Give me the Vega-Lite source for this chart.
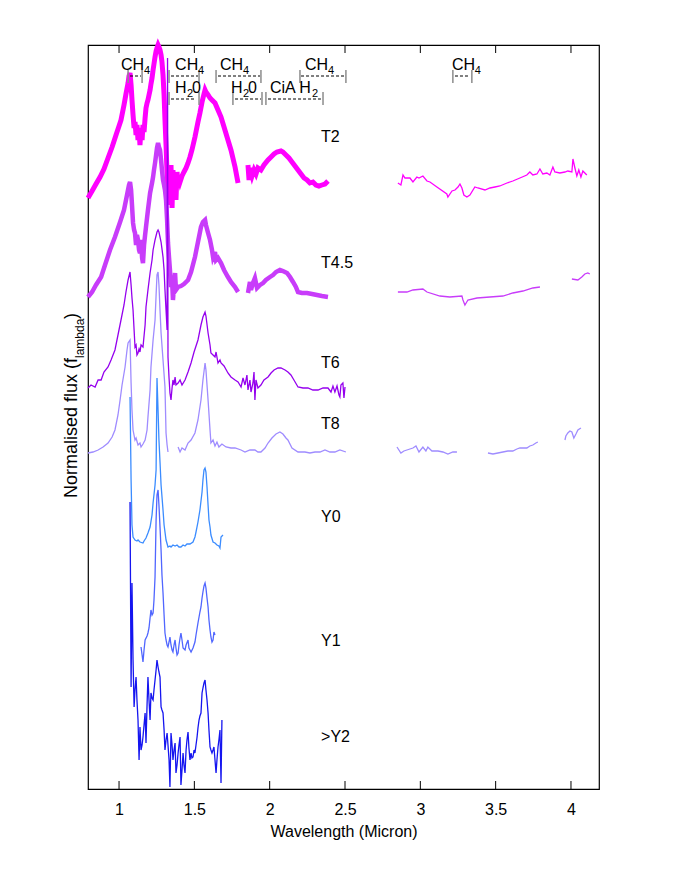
{
"$schema":"https://vega.github.io/schema/vega-lite/v6.json",
"width":511,"height":744,
"autosize":{"type":"none"},
"padding":{"left":88,"top":45,"right":90,"bottom":103},
"background":"white",
"config":{"view":{"stroke":"black","strokeWidth":1.2},"font":"Liberation Sans","text":{"font":"Liberation Sans","color":"black"}},
"datasets":{
"spec":[
{"series":"T2","seg":"T2a","wl":0.794,"flux":591},{"series":"T2","seg":"T2a","wl":0.821,"flux":598},{"series":"T2","seg":"T2a","wl":0.847,"flux":605},{"series":"T2","seg":"T2a","wl":0.874,"flux":612},{"series":"T2","seg":"T2a","wl":0.900,"flux":620},{"series":"T2","seg":"T2a","wl":0.927,"flux":631},{"series":"T2","seg":"T2a","wl":0.954,"flux":642},{"series":"T2","seg":"T2a","wl":0.980,"flux":654},{"series":"T2","seg":"T2a","wl":1.000,"flux":663},{"series":"T2","seg":"T2a","wl":1.013,"flux":669},{"series":"T2","seg":"T2a","wl":1.033,"flux":684},{"series":"T2","seg":"T2a","wl":1.046,"flux":695},{"series":"T2","seg":"T2a","wl":1.060,"flux":706},{"series":"T2","seg":"T2a","wl":1.066,"flux":713},{"series":"T2","seg":"T2a","wl":1.073,"flux":716},{"series":"T2","seg":"T2a","wl":1.080,"flux":704},{"series":"T2","seg":"T2a","wl":1.086,"flux":689},{"series":"T2","seg":"T2a","wl":1.093,"flux":674},{"series":"T2","seg":"T2a","wl":1.100,"flux":661},{"series":"T2","seg":"T2a","wl":1.106,"flux":667},{"series":"T2","seg":"T2a","wl":1.113,"flux":654},{"series":"T2","seg":"T2a","wl":1.119,"flux":664},{"series":"T2","seg":"T2a","wl":1.126,"flux":649},{"series":"T2","seg":"T2a","wl":1.133,"flux":659},{"series":"T2","seg":"T2a","wl":1.139,"flux":644},{"series":"T2","seg":"T2a","wl":1.146,"flux":661},{"series":"T2","seg":"T2a","wl":1.153,"flux":649},{"series":"T2","seg":"T2a","wl":1.159,"flux":664},{"series":"T2","seg":"T2a","wl":1.166,"flux":657},{"series":"T2","seg":"T2a","wl":1.173,"flux":671},{"series":"T2","seg":"T2a","wl":1.179,"flux":681},{"series":"T2","seg":"T2a","wl":1.186,"flux":686},{"series":"T2","seg":"T2a","wl":1.192,"flux":689},{"series":"T2","seg":"T2a","wl":1.199,"flux":694},{"series":"T2","seg":"T2a","wl":1.206,"flux":699},{"series":"T2","seg":"T2a","wl":1.212,"flux":705},{"series":"T2","seg":"T2a","wl":1.219,"flux":711},{"series":"T2","seg":"T2a","wl":1.226,"flux":719},{"series":"T2","seg":"T2a","wl":1.232,"flux":725},{"series":"T2","seg":"T2a","wl":1.239,"flux":732},{"series":"T2","seg":"T2a","wl":1.246,"flux":738},{"series":"T2","seg":"T2a","wl":1.252,"flux":741},{"series":"T2","seg":"T2a","wl":1.259,"flux":744},{"series":"T2","seg":"T2a","wl":1.265,"flux":742},{"series":"T2","seg":"T2a","wl":1.272,"flux":739},{"series":"T2","seg":"T2a","wl":1.279,"flux":734},{"series":"T2","seg":"T2a","wl":1.285,"flux":727},{"series":"T2","seg":"T2a","wl":1.292,"flux":714},{"series":"T2","seg":"T2a","wl":1.299,"flux":694},{"series":"T2","seg":"T2a","wl":1.305,"flux":669},{"series":"T2","seg":"T2a","wl":1.312,"flux":644},{"series":"T2","seg":"T2a","wl":1.319,"flux":614},{"series":"T2","seg":"T2a","wl":1.325,"flux":584},{"series":"T2","seg":"T2a","wl":1.332,"flux":619},{"series":"T2","seg":"T2a","wl":1.338,"flux":594},{"series":"T2","seg":"T2a","wl":1.345,"flux":624},{"series":"T2","seg":"T2a","wl":1.352,"flux":581},{"series":"T2","seg":"T2a","wl":1.358,"flux":619},{"series":"T2","seg":"T2a","wl":1.365,"flux":597},{"series":"T2","seg":"T2a","wl":1.372,"flux":614},{"series":"T2","seg":"T2a","wl":1.378,"flux":589},{"series":"T2","seg":"T2a","wl":1.385,"flux":617},{"series":"T2","seg":"T2a","wl":1.392,"flux":601},{"series":"T2","seg":"T2a","wl":1.398,"flux":611},{"series":"T2","seg":"T2a","wl":1.405,"flux":607},{"series":"T2","seg":"T2a","wl":1.418,"flux":613},{"series":"T2","seg":"T2a","wl":1.431,"flux":617},{"series":"T2","seg":"T2a","wl":1.445,"flux":621},{"series":"T2","seg":"T2a","wl":1.458,"flux":626},{"series":"T2","seg":"T2a","wl":1.471,"flux":632},{"series":"T2","seg":"T2a","wl":1.484,"flux":639},{"series":"T2","seg":"T2a","wl":1.504,"flux":652},{"series":"T2","seg":"T2a","wl":1.524,"flux":667},{"series":"T2","seg":"T2a","wl":1.537,"flux":676},{"series":"T2","seg":"T2a","wl":1.551,"flux":687},{"series":"T2","seg":"T2a","wl":1.564,"flux":695},{"series":"T2","seg":"T2a","wl":1.571,"flux":699},{"series":"T2","seg":"T2a","wl":1.577,"flux":697},{"series":"T2","seg":"T2a","wl":1.591,"flux":694},{"series":"T2","seg":"T2a","wl":1.604,"flux":691},{"series":"T2","seg":"T2a","wl":1.617,"flux":689},{"series":"T2","seg":"T2a","wl":1.637,"flux":686},{"series":"T2","seg":"T2a","wl":1.657,"flux":679},{"series":"T2","seg":"T2a","wl":1.677,"flux":672},{"series":"T2","seg":"T2a","wl":1.697,"flux":662},{"series":"T2","seg":"T2a","wl":1.723,"flux":649},{"series":"T2","seg":"T2a","wl":1.743,"flux":639},{"series":"T2","seg":"T2a","wl":1.770,"flux":622},{"series":"T2","seg":"T2a","wl":1.790,"flux":606},
{"series":"T2","seg":"T2b","wl":1.856,"flux":624},{"series":"T2","seg":"T2b","wl":1.863,"flux":609},{"series":"T2","seg":"T2b","wl":1.869,"flux":621},{"series":"T2","seg":"T2b","wl":1.883,"flux":613},{"series":"T2","seg":"T2b","wl":1.896,"flux":619},{"series":"T2","seg":"T2b","wl":1.909,"flux":615},{"series":"T2","seg":"T2b","wl":1.922,"flux":621},{"series":"T2","seg":"T2b","wl":1.942,"flux":619},{"series":"T2","seg":"T2b","wl":1.962,"flux":624},{"series":"T2","seg":"T2b","wl":1.989,"flux":629},{"series":"T2","seg":"T2b","wl":2.009,"flux":632},{"series":"T2","seg":"T2b","wl":2.029,"flux":635},{"series":"T2","seg":"T2b","wl":2.048,"flux":637},{"series":"T2","seg":"T2b","wl":2.075,"flux":638},{"series":"T2","seg":"T2b","wl":2.088,"flux":637},{"series":"T2","seg":"T2b","wl":2.108,"flux":634},{"series":"T2","seg":"T2b","wl":2.128,"flux":631},{"series":"T2","seg":"T2b","wl":2.148,"flux":627},{"series":"T2","seg":"T2b","wl":2.168,"flux":623},{"series":"T2","seg":"T2b","wl":2.188,"flux":619},{"series":"T2","seg":"T2b","wl":2.208,"flux":615},{"series":"T2","seg":"T2b","wl":2.228,"flux":611},{"series":"T2","seg":"T2b","wl":2.248,"flux":609},{"series":"T2","seg":"T2b","wl":2.267,"flux":606},{"series":"T2","seg":"T2b","wl":2.287,"flux":607},{"series":"T2","seg":"T2b","wl":2.307,"flux":604},{"series":"T2","seg":"T2b","wl":2.327,"flux":603},{"series":"T2","seg":"T2b","wl":2.347,"flux":604},{"series":"T2","seg":"T2b","wl":2.367,"flux":605},{"series":"T2","seg":"T2b","wl":2.387,"flux":608},
{"series":"T2","seg":"T2c","wl":2.851,"flux":606},{"series":"T2","seg":"T2c","wl":2.871,"flux":604},{"series":"T2","seg":"T2c","wl":2.885,"flux":614},{"series":"T2","seg":"T2c","wl":2.898,"flux":611},{"series":"T2","seg":"T2c","wl":2.931,"flux":611},{"series":"T2","seg":"T2c","wl":2.951,"flux":607},{"series":"T2","seg":"T2c","wl":2.977,"flux":612},{"series":"T2","seg":"T2c","wl":2.991,"flux":611},{"series":"T2","seg":"T2c","wl":3.017,"flux":613},{"series":"T2","seg":"T2c","wl":3.044,"flux":608},{"series":"T2","seg":"T2c","wl":3.064,"flux":607},{"series":"T2","seg":"T2c","wl":3.110,"flux":602},{"series":"T2","seg":"T2c","wl":3.176,"flux":595},{"series":"T2","seg":"T2c","wl":3.183,"flux":592},{"series":"T2","seg":"T2c","wl":3.210,"flux":598},{"series":"T2","seg":"T2c","wl":3.230,"flux":599},{"series":"T2","seg":"T2c","wl":3.250,"flux":602},{"series":"T2","seg":"T2c","wl":3.263,"flux":605},{"series":"T2","seg":"T2c","wl":3.276,"flux":601},{"series":"T2","seg":"T2c","wl":3.289,"flux":594},{"series":"T2","seg":"T2c","wl":3.309,"flux":592},{"series":"T2","seg":"T2c","wl":3.329,"flux":594},{"series":"T2","seg":"T2c","wl":3.362,"flux":602},{"series":"T2","seg":"T2c","wl":3.382,"flux":601},{"series":"T2","seg":"T2c","wl":3.429,"flux":599},{"series":"T2","seg":"T2c","wl":3.462,"flux":601},{"series":"T2","seg":"T2c","wl":3.495,"flux":602},{"series":"T2","seg":"T2c","wl":3.528,"flux":603},{"series":"T2","seg":"T2c","wl":3.575,"flux":606},{"series":"T2","seg":"T2c","wl":3.614,"flux":608},{"series":"T2","seg":"T2c","wl":3.661,"flux":611},{"series":"T2","seg":"T2c","wl":3.707,"flux":614},{"series":"T2","seg":"T2c","wl":3.727,"flux":617},{"series":"T2","seg":"T2c","wl":3.747,"flux":614},{"series":"T2","seg":"T2c","wl":3.774,"flux":615},{"series":"T2","seg":"T2c","wl":3.794,"flux":620},{"series":"T2","seg":"T2c","wl":3.813,"flux":615},{"series":"T2","seg":"T2c","wl":3.840,"flux":616},{"series":"T2","seg":"T2c","wl":3.860,"flux":614},{"series":"T2","seg":"T2c","wl":3.880,"flux":622},{"series":"T2","seg":"T2c","wl":3.893,"flux":617},{"series":"T2","seg":"T2c","wl":3.926,"flux":616},{"series":"T2","seg":"T2c","wl":3.960,"flux":617},{"series":"T2","seg":"T2c","wl":3.979,"flux":618},{"series":"T2","seg":"T2c","wl":4.006,"flux":617},{"series":"T2","seg":"T2c","wl":4.013,"flux":630},{"series":"T2","seg":"T2c","wl":4.026,"flux":621},{"series":"T2","seg":"T2c","wl":4.039,"flux":613},{"series":"T2","seg":"T2c","wl":4.052,"flux":619},{"series":"T2","seg":"T2c","wl":4.066,"flux":612},{"series":"T2","seg":"T2c","wl":4.079,"flux":618},{"series":"T2","seg":"T2c","wl":4.092,"flux":616},{"series":"T2","seg":"T2c","wl":4.105,"flux":614},
{"series":"T4.5","seg":"T45a","wl":0.794,"flux":492},{"series":"T4.5","seg":"T45a","wl":0.821,"flux":497},{"series":"T4.5","seg":"T45a","wl":0.847,"flux":504},{"series":"T4.5","seg":"T45a","wl":0.881,"flux":512},{"series":"T4.5","seg":"T45a","wl":0.907,"flux":524},{"series":"T4.5","seg":"T45a","wl":0.940,"flux":539},{"series":"T4.5","seg":"T45a","wl":0.973,"flux":552},{"series":"T4.5","seg":"T45a","wl":1.007,"flux":567},{"series":"T4.5","seg":"T45a","wl":1.033,"flux":579},{"series":"T4.5","seg":"T45a","wl":1.053,"flux":594},{"series":"T4.5","seg":"T45a","wl":1.066,"flux":604},{"series":"T4.5","seg":"T45a","wl":1.073,"flux":607},{"series":"T4.5","seg":"T45a","wl":1.080,"flux":599},{"series":"T4.5","seg":"T45a","wl":1.086,"flux":584},{"series":"T4.5","seg":"T45a","wl":1.093,"flux":566},{"series":"T4.5","seg":"T45a","wl":1.100,"flux":559},{"series":"T4.5","seg":"T45a","wl":1.106,"flux":556},{"series":"T4.5","seg":"T45a","wl":1.113,"flux":544},{"series":"T4.5","seg":"T45a","wl":1.119,"flux":554},{"series":"T4.5","seg":"T45a","wl":1.126,"flux":549},{"series":"T4.5","seg":"T45a","wl":1.133,"flux":539},{"series":"T4.5","seg":"T45a","wl":1.139,"flux":536},{"series":"T4.5","seg":"T45a","wl":1.146,"flux":549},{"series":"T4.5","seg":"T45a","wl":1.153,"flux":531},{"series":"T4.5","seg":"T45a","wl":1.159,"flux":526},{"series":"T4.5","seg":"T45a","wl":1.166,"flux":544},{"series":"T4.5","seg":"T45a","wl":1.173,"flux":554},{"series":"T4.5","seg":"T45a","wl":1.179,"flux":562},{"series":"T4.5","seg":"T45a","wl":1.192,"flux":579},{"series":"T4.5","seg":"T45a","wl":1.206,"flux":596},{"series":"T4.5","seg":"T45a","wl":1.219,"flux":606},{"series":"T4.5","seg":"T45a","wl":1.226,"flux":612},{"series":"T4.5","seg":"T45a","wl":1.232,"flux":619},{"series":"T4.5","seg":"T45a","wl":1.239,"flux":626},{"series":"T4.5","seg":"T45a","wl":1.246,"flux":634},{"series":"T4.5","seg":"T45a","wl":1.252,"flux":641},{"series":"T4.5","seg":"T45a","wl":1.259,"flux":646},{"series":"T4.5","seg":"T45a","wl":1.265,"flux":642},{"series":"T4.5","seg":"T45a","wl":1.272,"flux":639},{"series":"T4.5","seg":"T45a","wl":1.279,"flux":629},{"series":"T4.5","seg":"T45a","wl":1.285,"flux":619},{"series":"T4.5","seg":"T45a","wl":1.292,"flux":609},{"series":"T4.5","seg":"T45a","wl":1.299,"flux":604},{"series":"T4.5","seg":"T45a","wl":1.305,"flux":599},{"series":"T4.5","seg":"T45a","wl":1.312,"flux":589},{"series":"T4.5","seg":"T45a","wl":1.319,"flux":569},{"series":"T4.5","seg":"T45a","wl":1.325,"flux":546},{"series":"T4.5","seg":"T45a","wl":1.332,"flux":531},{"series":"T4.5","seg":"T45a","wl":1.338,"flux":519},{"series":"T4.5","seg":"T45a","wl":1.345,"flux":502},{"series":"T4.5","seg":"T45a","wl":1.352,"flux":509},{"series":"T4.5","seg":"T45a","wl":1.358,"flux":489},{"series":"T4.5","seg":"T45a","wl":1.365,"flux":504},{"series":"T4.5","seg":"T45a","wl":1.372,"flux":516},{"series":"T4.5","seg":"T45a","wl":1.378,"flux":499},{"series":"T4.5","seg":"T45a","wl":1.392,"flux":502},{"series":"T4.5","seg":"T45a","wl":1.411,"flux":503},{"series":"T4.5","seg":"T45a","wl":1.431,"flux":505},{"series":"T4.5","seg":"T45a","wl":1.458,"flux":509},{"series":"T4.5","seg":"T45a","wl":1.478,"flux":517},{"series":"T4.5","seg":"T45a","wl":1.504,"flux":532},{"series":"T4.5","seg":"T45a","wl":1.524,"flux":547},{"series":"T4.5","seg":"T45a","wl":1.544,"flux":562},{"series":"T4.5","seg":"T45a","wl":1.557,"flux":567},{"series":"T4.5","seg":"T45a","wl":1.571,"flux":569},{"series":"T4.5","seg":"T45a","wl":1.577,"flux":564},{"series":"T4.5","seg":"T45a","wl":1.591,"flux":556},{"series":"T4.5","seg":"T45a","wl":1.604,"flux":549},{"series":"T4.5","seg":"T45a","wl":1.617,"flux":539},{"series":"T4.5","seg":"T45a","wl":1.624,"flux":532},{"series":"T4.5","seg":"T45a","wl":1.637,"flux":537},{"series":"T4.5","seg":"T45a","wl":1.644,"flux":529},{"series":"T4.5","seg":"T45a","wl":1.657,"flux":531},{"series":"T4.5","seg":"T45a","wl":1.677,"flux":526},{"series":"T4.5","seg":"T45a","wl":1.697,"flux":519},{"series":"T4.5","seg":"T45a","wl":1.723,"flux":512},{"series":"T4.5","seg":"T45a","wl":1.743,"flux":507},{"series":"T4.5","seg":"T45a","wl":1.770,"flux":502},{"series":"T4.5","seg":"T45a","wl":1.790,"flux":497},
{"series":"T4.5","seg":"T45b","wl":1.856,"flux":496},{"series":"T4.5","seg":"T45b","wl":1.869,"flux":507},{"series":"T4.5","seg":"T45b","wl":1.876,"flux":499},{"series":"T4.5","seg":"T45b","wl":1.889,"flux":506},{"series":"T4.5","seg":"T45b","wl":1.902,"flux":511},{"series":"T4.5","seg":"T45b","wl":1.916,"flux":501},{"series":"T4.5","seg":"T45b","wl":1.936,"flux":504},{"series":"T4.5","seg":"T45b","wl":1.956,"flux":506},{"series":"T4.5","seg":"T45b","wl":1.975,"flux":509},{"series":"T4.5","seg":"T45b","wl":2.002,"flux":512},{"series":"T4.5","seg":"T45b","wl":2.022,"flux":514},{"series":"T4.5","seg":"T45b","wl":2.042,"flux":517},{"series":"T4.5","seg":"T45b","wl":2.068,"flux":519},{"series":"T4.5","seg":"T45b","wl":2.088,"flux":518},{"series":"T4.5","seg":"T45b","wl":2.115,"flux":516},{"series":"T4.5","seg":"T45b","wl":2.135,"flux":512},{"series":"T4.5","seg":"T45b","wl":2.155,"flux":507},{"series":"T4.5","seg":"T45b","wl":2.174,"flux":502},{"series":"T4.5","seg":"T45b","wl":2.188,"flux":497},{"series":"T4.5","seg":"T45b","wl":2.214,"flux":496},{"series":"T4.5","seg":"T45b","wl":2.248,"flux":496},{"series":"T4.5","seg":"T45b","wl":2.281,"flux":495},{"series":"T4.5","seg":"T45b","wl":2.314,"flux":494},{"series":"T4.5","seg":"T45b","wl":2.347,"flux":493},{"series":"T4.5","seg":"T45b","wl":2.387,"flux":492},
{"series":"T4.5","seg":"T45c","wl":2.851,"flux":497},{"series":"T4.5","seg":"T45c","wl":2.911,"flux":497},{"series":"T4.5","seg":"T45c","wl":2.951,"flux":499},{"series":"T4.5","seg":"T45c","wl":3.017,"flux":500},{"series":"T4.5","seg":"T45c","wl":3.044,"flux":497},{"series":"T4.5","seg":"T45c","wl":3.130,"flux":493},{"series":"T4.5","seg":"T45c","wl":3.196,"flux":492},{"series":"T4.5","seg":"T45c","wl":3.276,"flux":493},{"series":"T4.5","seg":"T45c","wl":3.283,"flux":489},{"series":"T4.5","seg":"T45c","wl":3.296,"flux":484},{"series":"T4.5","seg":"T45c","wl":3.316,"flux":489},{"series":"T4.5","seg":"T45c","wl":3.376,"flux":491},{"series":"T4.5","seg":"T45c","wl":3.462,"flux":492},{"series":"T4.5","seg":"T45c","wl":3.548,"flux":493},{"series":"T4.5","seg":"T45c","wl":3.614,"flux":496},{"series":"T4.5","seg":"T45c","wl":3.681,"flux":498},{"series":"T4.5","seg":"T45c","wl":3.747,"flux":501},{"series":"T4.5","seg":"T45c","wl":3.794,"flux":502},
{"series":"T4.5","seg":"T45d","wl":4.006,"flux":510},{"series":"T4.5","seg":"T45d","wl":4.046,"flux":509},{"series":"T4.5","seg":"T45d","wl":4.072,"flux":512},{"series":"T4.5","seg":"T45d","wl":4.092,"flux":515},{"series":"T4.5","seg":"T45d","wl":4.112,"flux":516},{"series":"T4.5","seg":"T45d","wl":4.125,"flux":515},
{"series":"T6","seg":"T6a","wl":0.794,"flux":401},{"series":"T6","seg":"T6a","wl":0.814,"flux":404},{"series":"T6","seg":"T6a","wl":0.841,"flux":402},{"series":"T6","seg":"T6a","wl":0.861,"flux":409},{"series":"T6","seg":"T6a","wl":0.881,"flux":409},{"series":"T6","seg":"T6a","wl":0.900,"flux":417},{"series":"T6","seg":"T6a","wl":0.927,"flux":422},{"series":"T6","seg":"T6a","wl":0.947,"flux":429},{"series":"T6","seg":"T6a","wl":0.973,"flux":439},{"series":"T6","seg":"T6a","wl":0.993,"flux":454},{"series":"T6","seg":"T6a","wl":1.013,"flux":469},{"series":"T6","seg":"T6a","wl":1.033,"flux":484},{"series":"T6","seg":"T6a","wl":1.046,"flux":497},{"series":"T6","seg":"T6a","wl":1.060,"flux":509},{"series":"T6","seg":"T6a","wl":1.073,"flux":517},{"series":"T6","seg":"T6a","wl":1.080,"flux":504},{"series":"T6","seg":"T6a","wl":1.086,"flux":491},{"series":"T6","seg":"T6a","wl":1.093,"flux":479},{"series":"T6","seg":"T6a","wl":1.100,"flux":459},{"series":"T6","seg":"T6a","wl":1.106,"flux":442},{"series":"T6","seg":"T6a","wl":1.113,"flux":444},{"series":"T6","seg":"T6a","wl":1.119,"flux":434},{"series":"T6","seg":"T6a","wl":1.126,"flux":436},{"series":"T6","seg":"T6a","wl":1.133,"flux":440},{"series":"T6","seg":"T6a","wl":1.139,"flux":437},{"series":"T6","seg":"T6a","wl":1.146,"flux":444},{"series":"T6","seg":"T6a","wl":1.159,"flux":442},{"series":"T6","seg":"T6a","wl":1.173,"flux":464},{"series":"T6","seg":"T6a","wl":1.179,"flux":482},{"series":"T6","seg":"T6a","wl":1.192,"flux":499},{"series":"T6","seg":"T6a","wl":1.206,"flux":516},{"series":"T6","seg":"T6a","wl":1.219,"flux":529},{"series":"T6","seg":"T6a","wl":1.226,"flux":539},{"series":"T6","seg":"T6a","wl":1.239,"flux":549},{"series":"T6","seg":"T6a","wl":1.252,"flux":557},{"series":"T6","seg":"T6a","wl":1.259,"flux":559},{"series":"T6","seg":"T6a","wl":1.265,"flux":557},{"series":"T6","seg":"T6a","wl":1.279,"flux":547},{"series":"T6","seg":"T6a","wl":1.292,"flux":532},{"series":"T6","seg":"T6a","wl":1.299,"flux":519},{"series":"T6","seg":"T6a","wl":1.305,"flux":499},{"series":"T6","seg":"T6a","wl":1.312,"flux":479},{"series":"T6","seg":"T6a","wl":1.319,"flux":459},{"series":"T6","seg":"T6a","wl":1.322,"flux":731},{"series":"T6","seg":"T6a","wl":1.325,"flux":432},{"series":"T6","seg":"T6a","wl":1.332,"flux":411},{"series":"T6","seg":"T6a","wl":1.338,"flux":396},{"series":"T6","seg":"T6a","wl":1.345,"flux":389},{"series":"T6","seg":"T6a","wl":1.352,"flux":401},{"series":"T6","seg":"T6a","wl":1.358,"flux":409},{"series":"T6","seg":"T6a","wl":1.365,"flux":404},{"series":"T6","seg":"T6a","wl":1.372,"flux":412},{"series":"T6","seg":"T6a","wl":1.378,"flux":404},{"series":"T6","seg":"T6a","wl":1.392,"flux":406},{"series":"T6","seg":"T6a","wl":1.405,"flux":409},{"series":"T6","seg":"T6a","wl":1.418,"flux":404},{"series":"T6","seg":"T6a","wl":1.438,"flux":409},{"series":"T6","seg":"T6a","wl":1.458,"flux":417},{"series":"T6","seg":"T6a","wl":1.478,"flux":426},{"series":"T6","seg":"T6a","wl":1.498,"flux":437},{"series":"T6","seg":"T6a","wl":1.524,"flux":449},{"series":"T6","seg":"T6a","wl":1.544,"flux":464},{"series":"T6","seg":"T6a","wl":1.557,"flux":472},{"series":"T6","seg":"T6a","wl":1.571,"flux":477},{"series":"T6","seg":"T6a","wl":1.577,"flux":473},{"series":"T6","seg":"T6a","wl":1.591,"flux":456},{"series":"T6","seg":"T6a","wl":1.604,"flux":444},{"series":"T6","seg":"T6a","wl":1.610,"flux":436},{"series":"T6","seg":"T6a","wl":1.624,"flux":434},{"series":"T6","seg":"T6a","wl":1.637,"flux":432},{"series":"T6","seg":"T6a","wl":1.644,"flux":437},{"series":"T6","seg":"T6a","wl":1.657,"flux":426},{"series":"T6","seg":"T6a","wl":1.670,"flux":429},{"series":"T6","seg":"T6a","wl":1.677,"flux":426},{"series":"T6","seg":"T6a","wl":1.697,"flux":423},{"series":"T6","seg":"T6a","wl":1.723,"flux":416},{"series":"T6","seg":"T6a","wl":1.743,"flux":412},{"series":"T6","seg":"T6a","wl":1.770,"flux":409},{"series":"T6","seg":"T6a","wl":1.790,"flux":407},{"series":"T6","seg":"T6a","wl":1.810,"flux":402},{"series":"T6","seg":"T6a","wl":1.823,"flux":411},{"series":"T6","seg":"T6a","wl":1.836,"flux":404},{"series":"T6","seg":"T6a","wl":1.849,"flux":414},{"series":"T6","seg":"T6a","wl":1.856,"flux":399},{"series":"T6","seg":"T6a","wl":1.869,"flux":409},{"series":"T6","seg":"T6a","wl":1.876,"flux":397},{"series":"T6","seg":"T6a","wl":1.889,"flux":406},{"series":"T6","seg":"T6a","wl":1.896,"flux":417},{"series":"T6","seg":"T6a","wl":1.902,"flux":389},{"series":"T6","seg":"T6a","wl":1.909,"flux":409},{"series":"T6","seg":"T6a","wl":1.922,"flux":401},{"series":"T6","seg":"T6a","wl":1.942,"flux":404},{"series":"T6","seg":"T6a","wl":1.962,"flux":409},{"series":"T6","seg":"T6a","wl":1.989,"flux":412},{"series":"T6","seg":"T6a","wl":2.009,"flux":416},{"series":"T6","seg":"T6a","wl":2.029,"flux":419},{"series":"T6","seg":"T6a","wl":2.055,"flux":421},{"series":"T6","seg":"T6a","wl":2.075,"flux":421},{"series":"T6","seg":"T6a","wl":2.102,"flux":419},{"series":"T6","seg":"T6a","wl":2.121,"flux":417},{"series":"T6","seg":"T6a","wl":2.141,"flux":414},{"series":"T6","seg":"T6a","wl":2.161,"flux":409},{"series":"T6","seg":"T6a","wl":2.188,"flux":402},{"series":"T6","seg":"T6a","wl":2.221,"flux":401},{"series":"T6","seg":"T6a","wl":2.254,"flux":401},{"series":"T6","seg":"T6a","wl":2.287,"flux":399},{"series":"T6","seg":"T6a","wl":2.321,"flux":399},{"series":"T6","seg":"T6a","wl":2.354,"flux":401},{"series":"T6","seg":"T6a","wl":2.387,"flux":401},{"series":"T6","seg":"T6a","wl":2.407,"flux":397},{"series":"T6","seg":"T6a","wl":2.420,"flux":403},{"series":"T6","seg":"T6a","wl":2.433,"flux":397},{"series":"T6","seg":"T6a","wl":2.447,"flux":403},{"series":"T6","seg":"T6a","wl":2.460,"flux":394},{"series":"T6","seg":"T6a","wl":2.466,"flux":392},{"series":"T6","seg":"T6a","wl":2.473,"flux":404},{"series":"T6","seg":"T6a","wl":2.486,"flux":406},{"series":"T6","seg":"T6a","wl":2.493,"flux":391},{"series":"T6","seg":"T6a","wl":2.500,"flux":402},
{"series":"T8","seg":"T8a","wl":0.794,"flux":336},{"series":"T8","seg":"T8a","wl":0.827,"flux":337},{"series":"T8","seg":"T8a","wl":0.861,"flux":339},{"series":"T8","seg":"T8a","wl":0.894,"flux":342},{"series":"T8","seg":"T8a","wl":0.927,"flux":346},{"series":"T8","seg":"T8a","wl":0.954,"flux":352},{"series":"T8","seg":"T8a","wl":0.973,"flux":359},{"series":"T8","seg":"T8a","wl":0.993,"flux":374},{"series":"T8","seg":"T8a","wl":1.007,"flux":389},{"series":"T8","seg":"T8a","wl":1.020,"flux":404},{"series":"T8","seg":"T8a","wl":1.040,"flux":422},{"series":"T8","seg":"T8a","wl":1.053,"flux":439},{"series":"T8","seg":"T8a","wl":1.060,"flux":446},{"series":"T8","seg":"T8a","wl":1.073,"flux":449},{"series":"T8","seg":"T8a","wl":1.080,"flux":406},{"series":"T8","seg":"T8a","wl":1.086,"flux":379},{"series":"T8","seg":"T8a","wl":1.093,"flux":359},{"series":"T8","seg":"T8a","wl":1.106,"flux":349},{"series":"T8","seg":"T8a","wl":1.113,"flux":351},{"series":"T8","seg":"T8a","wl":1.126,"flux":344},{"series":"T8","seg":"T8a","wl":1.139,"flux":346},{"series":"T8","seg":"T8a","wl":1.146,"flux":342},{"series":"T8","seg":"T8a","wl":1.159,"flux":345},{"series":"T8","seg":"T8a","wl":1.173,"flux":349},{"series":"T8","seg":"T8a","wl":1.186,"flux":359},{"series":"T8","seg":"T8a","wl":1.192,"flux":372},{"series":"T8","seg":"T8a","wl":1.206,"flux":399},{"series":"T8","seg":"T8a","wl":1.212,"flux":422},{"series":"T8","seg":"T8a","wl":1.226,"flux":449},{"series":"T8","seg":"T8a","wl":1.239,"flux":469},{"series":"T8","seg":"T8a","wl":1.246,"flux":494},{"series":"T8","seg":"T8a","wl":1.252,"flux":514},{"series":"T8","seg":"T8a","wl":1.259,"flux":517},{"series":"T8","seg":"T8a","wl":1.265,"flux":504},{"series":"T8","seg":"T8a","wl":1.272,"flux":479},{"series":"T8","seg":"T8a","wl":1.279,"flux":456},{"series":"T8","seg":"T8a","wl":1.292,"flux":429},{"series":"T8","seg":"T8a","wl":1.305,"flux":402},{"series":"T8","seg":"T8a","wl":1.312,"flux":356},{"series":"T8","seg":"T8a","wl":1.319,"flux":344},{"series":"T8","seg":"T8a","wl":1.325,"flux":337},
{"series":"T8","seg":"T8b","wl":1.392,"flux":342},{"series":"T8","seg":"T8b","wl":1.405,"flux":337},{"series":"T8","seg":"T8b","wl":1.418,"flux":341},{"series":"T8","seg":"T8b","wl":1.438,"flux":339},{"series":"T8","seg":"T8b","wl":1.458,"flux":346},{"series":"T8","seg":"T8b","wl":1.478,"flux":349},{"series":"T8","seg":"T8b","wl":1.504,"flux":356},{"series":"T8","seg":"T8b","wl":1.524,"flux":369},{"series":"T8","seg":"T8b","wl":1.544,"flux":389},{"series":"T8","seg":"T8b","wl":1.557,"flux":409},{"series":"T8","seg":"T8b","wl":1.571,"flux":426},{"series":"T8","seg":"T8b","wl":1.577,"flux":419},{"series":"T8","seg":"T8b","wl":1.584,"flux":404},{"series":"T8","seg":"T8b","wl":1.591,"flux":389},{"series":"T8","seg":"T8b","wl":1.604,"flux":359},{"series":"T8","seg":"T8b","wl":1.610,"flux":346},{"series":"T8","seg":"T8b","wl":1.624,"flux":349},{"series":"T8","seg":"T8b","wl":1.637,"flux":343},{"series":"T8","seg":"T8b","wl":1.650,"flux":347},{"series":"T8","seg":"T8b","wl":1.663,"flux":342},{"series":"T8","seg":"T8b","wl":1.683,"flux":345},{"series":"T8","seg":"T8b","wl":1.710,"flux":342},{"series":"T8","seg":"T8b","wl":1.743,"flux":341},{"series":"T8","seg":"T8b","wl":1.770,"flux":341},{"series":"T8","seg":"T8b","wl":1.810,"flux":339},{"series":"T8","seg":"T8b","wl":1.836,"flux":337},{"series":"T8","seg":"T8b","wl":1.869,"flux":339},{"series":"T8","seg":"T8b","wl":1.902,"flux":339},{"series":"T8","seg":"T8b","wl":1.922,"flux":337},{"series":"T8","seg":"T8b","wl":1.942,"flux":337},{"series":"T8","seg":"T8b","wl":1.969,"flux":341},{"series":"T8","seg":"T8b","wl":1.989,"flux":346},{"series":"T8","seg":"T8b","wl":2.015,"flux":351},{"series":"T8","seg":"T8b","wl":2.042,"flux":355},{"series":"T8","seg":"T8b","wl":2.068,"flux":357},{"series":"T8","seg":"T8b","wl":2.088,"flux":355},{"series":"T8","seg":"T8b","wl":2.108,"flux":351},{"series":"T8","seg":"T8b","wl":2.121,"flux":349},{"series":"T8","seg":"T8b","wl":2.148,"flux":341},{"series":"T8","seg":"T8b","wl":2.188,"flux":337},{"series":"T8","seg":"T8b","wl":2.234,"flux":337},{"series":"T8","seg":"T8b","wl":2.267,"flux":336},{"series":"T8","seg":"T8b","wl":2.301,"flux":337},{"series":"T8","seg":"T8b","wl":2.334,"flux":337},{"series":"T8","seg":"T8b","wl":2.367,"flux":339},{"series":"T8","seg":"T8b","wl":2.400,"flux":337},{"series":"T8","seg":"T8b","wl":2.433,"flux":337},{"series":"T8","seg":"T8b","wl":2.466,"flux":339},{"series":"T8","seg":"T8b","wl":2.506,"flux":337},
{"series":"T8","seg":"T8c","wl":2.845,"flux":342},{"series":"T8","seg":"T8c","wl":2.871,"flux":336},{"series":"T8","seg":"T8c","wl":2.891,"flux":338},{"series":"T8","seg":"T8c","wl":2.911,"flux":339},{"series":"T8","seg":"T8c","wl":2.931,"flux":340},{"series":"T8","seg":"T8c","wl":2.951,"flux":341},{"series":"T8","seg":"T8c","wl":2.971,"flux":343},{"series":"T8","seg":"T8c","wl":2.991,"flux":337},{"series":"T8","seg":"T8c","wl":3.017,"flux":342},{"series":"T8","seg":"T8c","wl":3.037,"flux":338},{"series":"T8","seg":"T8c","wl":3.050,"flux":342},{"series":"T8","seg":"T8c","wl":3.077,"flux":338},{"series":"T8","seg":"T8c","wl":3.117,"flux":338},{"series":"T8","seg":"T8c","wl":3.150,"flux":337},{"series":"T8","seg":"T8c","wl":3.183,"flux":335},{"series":"T8","seg":"T8c","wl":3.216,"flux":337},{"series":"T8","seg":"T8c","wl":3.243,"flux":337},
{"series":"T8","seg":"T8d","wl":3.449,"flux":336},{"series":"T8","seg":"T8d","wl":3.482,"flux":335},{"series":"T8","seg":"T8d","wl":3.515,"flux":336},{"series":"T8","seg":"T8d","wl":3.548,"flux":337},{"series":"T8","seg":"T8d","wl":3.581,"flux":338},{"series":"T8","seg":"T8d","wl":3.614,"flux":338},{"series":"T8","seg":"T8d","wl":3.641,"flux":340},{"series":"T8","seg":"T8d","wl":3.661,"flux":341},{"series":"T8","seg":"T8d","wl":3.687,"flux":341},{"series":"T8","seg":"T8d","wl":3.707,"flux":341},{"series":"T8","seg":"T8d","wl":3.727,"flux":343},{"series":"T8","seg":"T8d","wl":3.747,"flux":344},{"series":"T8","seg":"T8d","wl":3.767,"flux":346},{"series":"T8","seg":"T8d","wl":3.780,"flux":347},
{"series":"T8","seg":"T8e","wl":3.960,"flux":349},{"series":"T8","seg":"T8e","wl":3.966,"flux":353},{"series":"T8","seg":"T8e","wl":3.979,"flux":356},{"series":"T8","seg":"T8e","wl":3.993,"flux":358},{"series":"T8","seg":"T8e","wl":4.006,"flux":357},{"series":"T8","seg":"T8e","wl":4.019,"flux":351},{"series":"T8","seg":"T8e","wl":4.033,"flux":355},{"series":"T8","seg":"T8e","wl":4.046,"flux":359},{"series":"T8","seg":"T8e","wl":4.066,"flux":361},
{"series":"Y0","seg":"Y0a","wl":1.073,"flux":392},{"series":"Y0","seg":"Y0a","wl":1.080,"flux":309},{"series":"Y0","seg":"Y0a","wl":1.086,"flux":264},{"series":"Y0","seg":"Y0a","wl":1.093,"flux":252},{"series":"Y0","seg":"Y0a","wl":1.106,"flux":249},{"series":"Y0","seg":"Y0a","wl":1.119,"flux":248},{"series":"Y0","seg":"Y0a","wl":1.126,"flux":249},{"series":"Y0","seg":"Y0a","wl":1.139,"flux":247},{"series":"Y0","seg":"Y0a","wl":1.159,"flux":246},{"series":"Y0","seg":"Y0a","wl":1.166,"flux":248},{"series":"Y0","seg":"Y0a","wl":1.179,"flux":251},{"series":"Y0","seg":"Y0a","wl":1.192,"flux":256},{"series":"Y0","seg":"Y0a","wl":1.206,"flux":262},{"series":"Y0","seg":"Y0a","wl":1.219,"flux":274},{"series":"Y0","seg":"Y0a","wl":1.226,"flux":286},{"series":"Y0","seg":"Y0a","wl":1.239,"flux":304},{"series":"Y0","seg":"Y0a","wl":1.246,"flux":319},{"series":"Y0","seg":"Y0a","wl":1.252,"flux":411},{"series":"Y0","seg":"Y0a","wl":1.259,"flux":379},{"series":"Y0","seg":"Y0a","wl":1.265,"flux":349},{"series":"Y0","seg":"Y0a","wl":1.272,"flux":327},{"series":"Y0","seg":"Y0a","wl":1.279,"flux":304},{"series":"Y0","seg":"Y0a","wl":1.292,"flux":279},{"series":"Y0","seg":"Y0a","wl":1.299,"flux":264},{"series":"Y0","seg":"Y0a","wl":1.312,"flux":249},{"series":"Y0","seg":"Y0a","wl":1.325,"flux":242},{"series":"Y0","seg":"Y0a","wl":1.338,"flux":243},{"series":"Y0","seg":"Y0a","wl":1.345,"flux":242},{"series":"Y0","seg":"Y0a","wl":1.358,"flux":244},{"series":"Y0","seg":"Y0a","wl":1.372,"flux":243},{"series":"Y0","seg":"Y0a","wl":1.385,"flux":244},{"series":"Y0","seg":"Y0a","wl":1.398,"flux":242},{"series":"Y0","seg":"Y0a","wl":1.411,"flux":242},{"series":"Y0","seg":"Y0a","wl":1.425,"flux":244},{"series":"Y0","seg":"Y0a","wl":1.438,"flux":243},{"series":"Y0","seg":"Y0a","wl":1.451,"flux":245},{"series":"Y0","seg":"Y0a","wl":1.471,"flux":245},{"series":"Y0","seg":"Y0a","wl":1.491,"flux":247},{"series":"Y0","seg":"Y0a","wl":1.504,"flux":252},{"series":"Y0","seg":"Y0a","wl":1.511,"flux":257},{"series":"Y0","seg":"Y0a","wl":1.524,"flux":267},{"series":"Y0","seg":"Y0a","wl":1.537,"flux":279},{"series":"Y0","seg":"Y0a","wl":1.551,"flux":297},{"series":"Y0","seg":"Y0a","wl":1.557,"flux":309},{"series":"Y0","seg":"Y0a","wl":1.564,"flux":319},{"series":"Y0","seg":"Y0a","wl":1.571,"flux":321},{"series":"Y0","seg":"Y0a","wl":1.577,"flux":317},{"series":"Y0","seg":"Y0a","wl":1.584,"flux":302},{"series":"Y0","seg":"Y0a","wl":1.591,"flux":284},{"series":"Y0","seg":"Y0a","wl":1.597,"flux":269},{"series":"Y0","seg":"Y0a","wl":1.604,"flux":262},{"series":"Y0","seg":"Y0a","wl":1.610,"flux":254},{"series":"Y0","seg":"Y0a","wl":1.624,"flux":247},{"series":"Y0","seg":"Y0a","wl":1.637,"flux":246},{"series":"Y0","seg":"Y0a","wl":1.650,"flux":244},{"series":"Y0","seg":"Y0a","wl":1.663,"flux":243},{"series":"Y0","seg":"Y0a","wl":1.670,"flux":241},{"series":"Y0","seg":"Y0a","wl":1.677,"flux":252},{"series":"Y0","seg":"Y0a","wl":1.690,"flux":254},
{"series":"Y1","seg":"Y1a","wl":1.146,"flux":142},{"series":"Y1","seg":"Y1a","wl":1.153,"flux":134},{"series":"Y1","seg":"Y1a","wl":1.159,"flux":127},{"series":"Y1","seg":"Y1a","wl":1.166,"flux":139},{"series":"Y1","seg":"Y1a","wl":1.173,"flux":149},{"series":"Y1","seg":"Y1a","wl":1.186,"flux":153},{"series":"Y1","seg":"Y1a","wl":1.192,"flux":156},{"series":"Y1","seg":"Y1a","wl":1.199,"flux":161},{"series":"Y1","seg":"Y1a","wl":1.206,"flux":171},{"series":"Y1","seg":"Y1a","wl":1.212,"flux":179},{"series":"Y1","seg":"Y1a","wl":1.219,"flux":174},{"series":"Y1","seg":"Y1a","wl":1.226,"flux":176},{"series":"Y1","seg":"Y1a","wl":1.232,"flux":189},{"series":"Y1","seg":"Y1a","wl":1.239,"flux":212},{"series":"Y1","seg":"Y1a","wl":1.246,"flux":269},{"series":"Y1","seg":"Y1a","wl":1.252,"flux":294},{"series":"Y1","seg":"Y1a","wl":1.259,"flux":299},{"series":"Y1","seg":"Y1a","wl":1.265,"flux":284},{"series":"Y1","seg":"Y1a","wl":1.272,"flux":262},{"series":"Y1","seg":"Y1a","wl":1.279,"flux":239},{"series":"Y1","seg":"Y1a","wl":1.285,"flux":214},{"series":"Y1","seg":"Y1a","wl":1.292,"flux":196},{"series":"Y1","seg":"Y1a","wl":1.299,"flux":174},{"series":"Y1","seg":"Y1a","wl":1.305,"flux":156},{"series":"Y1","seg":"Y1a","wl":1.312,"flux":149},{"series":"Y1","seg":"Y1a","wl":1.319,"flux":144},{"series":"Y1","seg":"Y1a","wl":1.325,"flux":142},{"series":"Y1","seg":"Y1a","wl":1.332,"flux":147},{"series":"Y1","seg":"Y1a","wl":1.338,"flux":152},{"series":"Y1","seg":"Y1a","wl":1.345,"flux":144},{"series":"Y1","seg":"Y1a","wl":1.352,"flux":139},{"series":"Y1","seg":"Y1a","wl":1.358,"flux":137},{"series":"Y1","seg":"Y1a","wl":1.365,"flux":144},{"series":"Y1","seg":"Y1a","wl":1.372,"flux":149},{"series":"Y1","seg":"Y1a","wl":1.378,"flux":141},{"series":"Y1","seg":"Y1a","wl":1.385,"flux":134},{"series":"Y1","seg":"Y1a","wl":1.392,"flux":136},{"series":"Y1","seg":"Y1a","wl":1.398,"flux":144},{"series":"Y1","seg":"Y1a","wl":1.405,"flux":151},{"series":"Y1","seg":"Y1a","wl":1.411,"flux":156},{"series":"Y1","seg":"Y1a","wl":1.418,"flux":149},{"series":"Y1","seg":"Y1a","wl":1.425,"flux":141},{"series":"Y1","seg":"Y1a","wl":1.438,"flux":139},{"series":"Y1","seg":"Y1a","wl":1.445,"flux":144},{"series":"Y1","seg":"Y1a","wl":1.458,"flux":149},{"series":"Y1","seg":"Y1a","wl":1.464,"flux":141},{"series":"Y1","seg":"Y1a","wl":1.471,"flux":139},{"series":"Y1","seg":"Y1a","wl":1.478,"flux":137},{"series":"Y1","seg":"Y1a","wl":1.491,"flux":141},{"series":"Y1","seg":"Y1a","wl":1.504,"flux":147},{"series":"Y1","seg":"Y1a","wl":1.511,"flux":154},{"series":"Y1","seg":"Y1a","wl":1.524,"flux":166},{"series":"Y1","seg":"Y1a","wl":1.537,"flux":177},{"series":"Y1","seg":"Y1a","wl":1.544,"flux":182},{"series":"Y1","seg":"Y1a","wl":1.551,"flux":191},{"series":"Y1","seg":"Y1a","wl":1.557,"flux":197},{"series":"Y1","seg":"Y1a","wl":1.564,"flux":203},{"series":"Y1","seg":"Y1a","wl":1.571,"flux":206},{"series":"Y1","seg":"Y1a","wl":1.577,"flux":201},{"series":"Y1","seg":"Y1a","wl":1.584,"flux":191},{"series":"Y1","seg":"Y1a","wl":1.591,"flux":182},{"series":"Y1","seg":"Y1a","wl":1.597,"flux":169},{"series":"Y1","seg":"Y1a","wl":1.604,"flux":159},{"series":"Y1","seg":"Y1a","wl":1.610,"flux":152},{"series":"Y1","seg":"Y1a","wl":1.617,"flux":147},{"series":"Y1","seg":"Y1a","wl":1.624,"flux":149},{"series":"Y1","seg":"Y1a","wl":1.630,"flux":157},{"series":"Y1","seg":"Y1a","wl":1.637,"flux":154},
{"series":">Y2","seg":"Y2a","wl":1.073,"flux":287},{"series":">Y2","seg":"Y2a","wl":1.080,"flux":102},{"series":">Y2","seg":"Y2a","wl":1.086,"flux":206},{"series":">Y2","seg":"Y2a","wl":1.093,"flux":129},{"series":">Y2","seg":"Y2a","wl":1.100,"flux":82},{"series":">Y2","seg":"Y2a","wl":1.106,"flux":99},{"series":">Y2","seg":"Y2a","wl":1.113,"flux":112},{"series":">Y2","seg":"Y2a","wl":1.119,"flux":89},{"series":">Y2","seg":"Y2a","wl":1.126,"flux":69},{"series":">Y2","seg":"Y2a","wl":1.133,"flux":29},{"series":">Y2","seg":"Y2a","wl":1.139,"flux":62},{"series":">Y2","seg":"Y2a","wl":1.146,"flux":39},{"series":">Y2","seg":"Y2a","wl":1.153,"flux":44},{"series":">Y2","seg":"Y2a","wl":1.159,"flux":52},{"series":">Y2","seg":"Y2a","wl":1.166,"flux":64},{"series":">Y2","seg":"Y2a","wl":1.173,"flux":76},{"series":">Y2","seg":"Y2a","wl":1.179,"flux":46},{"series":">Y2","seg":"Y2a","wl":1.186,"flux":84},{"series":">Y2","seg":"Y2a","wl":1.192,"flux":112},{"series":">Y2","seg":"Y2a","wl":1.199,"flux":89},{"series":">Y2","seg":"Y2a","wl":1.206,"flux":69},{"series":">Y2","seg":"Y2a","wl":1.212,"flux":96},{"series":">Y2","seg":"Y2a","wl":1.219,"flux":91},{"series":">Y2","seg":"Y2a","wl":1.226,"flux":89},{"series":">Y2","seg":"Y2a","wl":1.232,"flux":99},{"series":">Y2","seg":"Y2a","wl":1.239,"flux":109},{"series":">Y2","seg":"Y2a","wl":1.246,"flux":119},{"series":">Y2","seg":"Y2a","wl":1.252,"flux":129},{"series":">Y2","seg":"Y2a","wl":1.259,"flux":122},{"series":">Y2","seg":"Y2a","wl":1.265,"flux":117},{"series":">Y2","seg":"Y2a","wl":1.272,"flux":112},{"series":">Y2","seg":"Y2a","wl":1.279,"flux":82},{"series":">Y2","seg":"Y2a","wl":1.285,"flux":79},{"series":">Y2","seg":"Y2a","wl":1.292,"flux":76},{"series":">Y2","seg":"Y2a","wl":1.299,"flux":59},{"series":">Y2","seg":"Y2a","wl":1.305,"flux":39},{"series":">Y2","seg":"Y2a","wl":1.312,"flux":49},{"series":">Y2","seg":"Y2a","wl":1.319,"flux":56},{"series":">Y2","seg":"Y2a","wl":1.325,"flux":44},{"series":">Y2","seg":"Y2a","wl":1.332,"flux":29},{"series":">Y2","seg":"Y2a","wl":1.338,"flux":2},{"series":">Y2","seg":"Y2a","wl":1.345,"flux":56},{"series":">Y2","seg":"Y2a","wl":1.352,"flux":44},{"series":">Y2","seg":"Y2a","wl":1.358,"flux":29},{"series":">Y2","seg":"Y2a","wl":1.365,"flux":39},{"series":">Y2","seg":"Y2a","wl":1.372,"flux":46},{"series":">Y2","seg":"Y2a","wl":1.378,"flux":16},{"series":">Y2","seg":"Y2a","wl":1.385,"flux":24},{"series":">Y2","seg":"Y2a","wl":1.392,"flux":36},{"series":">Y2","seg":"Y2a","wl":1.398,"flux":44},{"series":">Y2","seg":"Y2a","wl":1.405,"flux":52},{"series":">Y2","seg":"Y2a","wl":1.411,"flux":4},{"series":">Y2","seg":"Y2a","wl":1.418,"flux":19},{"series":">Y2","seg":"Y2a","wl":1.425,"flux":36},{"series":">Y2","seg":"Y2a","wl":1.431,"flux":24},{"series":">Y2","seg":"Y2a","wl":1.438,"flux":16},{"series":">Y2","seg":"Y2a","wl":1.445,"flux":39},{"series":">Y2","seg":"Y2a","wl":1.451,"flux":49},{"series":">Y2","seg":"Y2a","wl":1.458,"flux":57},{"series":">Y2","seg":"Y2a","wl":1.464,"flux":41},{"series":">Y2","seg":"Y2a","wl":1.471,"flux":29},{"series":">Y2","seg":"Y2a","wl":1.478,"flux":36},{"series":">Y2","seg":"Y2a","wl":1.484,"flux":31},{"series":">Y2","seg":"Y2a","wl":1.491,"flux":32},{"series":">Y2","seg":"Y2a","wl":1.498,"flux":39},{"series":">Y2","seg":"Y2a","wl":1.504,"flux":36},{"series":">Y2","seg":"Y2a","wl":1.511,"flux":44},{"series":">Y2","seg":"Y2a","wl":1.518,"flux":52},{"series":">Y2","seg":"Y2a","wl":1.524,"flux":61},{"series":">Y2","seg":"Y2a","wl":1.531,"flux":69},{"series":">Y2","seg":"Y2a","wl":1.537,"flux":73},{"series":">Y2","seg":"Y2a","wl":1.544,"flux":76},{"series":">Y2","seg":"Y2a","wl":1.551,"flux":96},{"series":">Y2","seg":"Y2a","wl":1.557,"flux":101},{"series":">Y2","seg":"Y2a","wl":1.564,"flux":106},{"series":">Y2","seg":"Y2a","wl":1.571,"flux":109},{"series":">Y2","seg":"Y2a","wl":1.577,"flux":99},{"series":">Y2","seg":"Y2a","wl":1.584,"flux":89},{"series":">Y2","seg":"Y2a","wl":1.591,"flux":76},{"series":">Y2","seg":"Y2a","wl":1.597,"flux":59},{"series":">Y2","seg":"Y2a","wl":1.604,"flux":42},{"series":">Y2","seg":"Y2a","wl":1.610,"flux":39},{"series":">Y2","seg":"Y2a","wl":1.617,"flux":36},{"series":">Y2","seg":"Y2a","wl":1.624,"flux":39},{"series":">Y2","seg":"Y2a","wl":1.630,"flux":42},{"series":">Y2","seg":"Y2a","wl":1.637,"flux":29},{"series":">Y2","seg":"Y2a","wl":1.644,"flux":16},{"series":">Y2","seg":"Y2a","wl":1.650,"flux":29},{"series":">Y2","seg":"Y2a","wl":1.657,"flux":42},{"series":">Y2","seg":"Y2a","wl":1.663,"flux":49},{"series":">Y2","seg":"Y2a","wl":1.670,"flux":59},{"series":">Y2","seg":"Y2a","wl":1.677,"flux":6},{"series":">Y2","seg":"Y2a","wl":1.683,"flux":69}
],
"labels":[{"t":"T2","wl":2.341,"flux":652},{"t":"T4.5","wl":2.341,"flux":526},{"t":"T6","wl":2.341,"flux":426},{"t":"T8","wl":2.341,"flux":365},{"t":"Y0","wl":2.341,"flux":272},{"t":"Y1","wl":2.341,"flux":148},{"t":">Y2","wl":2.341,"flux":52}],
"ann":[{"t":"CH","wl":1.013,"flux":724},{"t":"CH","wl":1.372,"flux":724},{"t":"CH","wl":1.670,"flux":724},{"t":"CH","wl":2.234,"flux":724},{"t":"CH","wl":3.210,"flux":724},{"t":"H","wl":1.372,"flux":701},{"t":"0","wl":1.484,"flux":701},{"t":"H","wl":1.743,"flux":701},{"t":"0","wl":1.856,"flux":701},{"t":"CiA H","wl":2.002,"flux":701}],
"sub":[{"t":"4","wl":1.166,"flux":718},{"t":"4","wl":1.524,"flux":718},{"t":"4","wl":1.823,"flux":718},{"t":"4","wl":2.387,"flux":718},{"t":"4","wl":3.362,"flux":718},{"t":"2","wl":1.451,"flux":695},{"t":"2","wl":1.823,"flux":695},{"t":"2","wl":2.281,"flux":695}],
"dash":[{"wl":1.073,"wl2":1.146,"flux":713},{"wl":1.345,"wl2":1.524,"flux":713},{"wl":1.657,"wl2":1.936,"flux":713},{"wl":2.208,"wl2":2.500,"flux":713},{"wl":3.230,"wl2":3.329,"flux":713},{"wl":1.345,"wl2":1.511,"flux":690},{"wl":1.770,"wl2":1.942,"flux":690},{"wl":1.989,"wl2":2.340,"flux":690}],
"bar":[{"wl":1.060,"flux":719,"flux2":706},{"wl":1.153,"flux":719,"flux2":706},{"wl":1.332,"flux":719,"flux2":706},{"wl":1.531,"flux":719,"flux2":706},{"wl":1.644,"flux":719,"flux2":706},{"wl":1.942,"flux":719,"flux2":706},{"wl":2.201,"flux":719,"flux2":706},{"wl":2.506,"flux":719,"flux2":706},{"wl":3.216,"flux":719,"flux2":706},{"wl":3.342,"flux":719,"flux2":706},{"wl":1.332,"flux":697,"flux2":684},{"wl":1.531,"flux":697,"flux2":684},{"wl":1.756,"flux":697,"flux2":684},{"wl":1.949,"flux":697,"flux2":684},{"wl":1.975,"flux":697,"flux2":684},{"wl":2.354,"flux":697,"flux2":684}],
"ticks":[{"wl":1,"lo":0,"hi":8},{"wl":1.5,"lo":0,"hi":8},{"wl":2,"lo":0,"hi":8},{"wl":2.5,"lo":0,"hi":8},{"wl":3,"lo":0,"hi":8},{"wl":3.5,"lo":0,"hi":8},{"wl":4,"lo":0,"hi":8},{"wl":1,"lo":736,"hi":744},{"wl":1.5,"lo":736,"hi":744},{"wl":2,"lo":736,"hi":744},{"wl":2.5,"lo":736,"hi":744},{"wl":3,"lo":736,"hi":744},{"wl":3.5,"lo":736,"hi":744},{"wl":4,"lo":736,"hi":744}],
"ytitle":[{"t":"Normalised flux (f","wl":0.688,"flux":291},{"t":")","wl":0.688,"flux":470}],
"ysub":[{"t":"lambda","wl":0.741,"flux":431}]
},
"resolve":{"scale":{"strokeWidth":"independent"}},
"layer":[
{"data":{"name":"spec"},"transform":[{"filter":"datum.series=='T2' && datum.wl<2.6"}],
 "mark":{"type":"line","interpolate":"linear","strokeWidth":5},
 "encoding":{
  "x":{"field":"wl","type":"quantitative","scale":{"domain":[0.794,4.186],"nice":false,"zero":false},
   "axis":{"orient":"bottom","values":[1,1.5,2,2.5,3,3.5,4],"format":"~g","ticks":false,"labelPadding":12,"labelFontSize":16,"labelColor":"black","labelFont":"Liberation Sans","title":"Wavelength (Micron)","titleFontSize":16,"titleFontWeight":"normal","titleColor":"black","titleFont":"Liberation Sans","titlePadding":6,"grid":false,"domain":false}},
  "y":{"field":"flux","type":"quantitative","scale":{"domain":[0,744],"nice":false,"zero":false},"axis":null},
  "color":{"field":"series","type":"nominal","scale":{"domain":["T2","T4.5","T6","T8","Y0","Y1",">Y2"],"range":["#ff00ff","#c83cfa","#9500ee","#9f8cff","#3b8cff","#5066ff","#1515f0"]},"legend":null},
  "detail":{"field":"seg"}}},
{"data":{"name":"spec"},"transform":[{"filter":"datum.series=='T4.5' && datum.wl<2.6"}],
 "mark":{"type":"line","interpolate":"linear","strokeWidth":4.5},
 "encoding":{
  "x":{"field":"wl","type":"quantitative"},
  "y":{"field":"flux","type":"quantitative"},
  "color":{"field":"series","type":"nominal","legend":null},
  "detail":{"field":"seg"}}},
{"data":{"name":"spec"},"transform":[{"filter":"!((datum.series=='T2'||datum.series=='T4.5') && datum.wl<2.6)"}],
 "mark":{"type":"line","interpolate":"linear"},
 "encoding":{
  "x":{"field":"wl","type":"quantitative"},
  "y":{"field":"flux","type":"quantitative"},
  "color":{"field":"series","type":"nominal","legend":null},
  "strokeWidth":{"field":"series","type":"nominal","scale":{"domain":["T2","T4.5","T6","T8","Y0","Y1",">Y2"],"range":[1.3,1.3,1.6,1.2,1.2,1.2,1.4]},"legend":null},
  "detail":{"field":"seg"}}},
{"data":{"name":"ticks"},"mark":{"type":"rule","color":"black","strokeWidth":1},
 "encoding":{"x":{"field":"wl","type":"quantitative"},"y":{"field":"lo","type":"quantitative"},"y2":{"field":"hi"}}},
{"data":{"name":"dash"},"mark":{"type":"rule","color":"black","strokeWidth":1,"strokeDash":[3,2]},
 "encoding":{"x":{"field":"wl","type":"quantitative"},"x2":{"field":"wl2"},"y":{"field":"flux","type":"quantitative"}}},
{"data":{"name":"bar"},"mark":{"type":"rule","color":"#8c8c8c","strokeWidth":1.5},
 "encoding":{"x":{"field":"wl","type":"quantitative"},"y":{"field":"flux","type":"quantitative"},"y2":{"field":"flux2"}}},
{"data":{"name":"ann"},"mark":{"type":"text","align":"left","baseline":"middle","fontSize":16,"font":"Liberation Sans","color":"black"},
 "encoding":{"x":{"field":"wl","type":"quantitative"},"y":{"field":"flux","type":"quantitative"},"text":{"field":"t"}}},
{"data":{"name":"sub"},"mark":{"type":"text","align":"left","baseline":"middle","fontSize":11,"font":"Liberation Sans","color":"black"},
 "encoding":{"x":{"field":"wl","type":"quantitative"},"y":{"field":"flux","type":"quantitative"},"text":{"field":"t"}}},
{"data":{"name":"labels"},"mark":{"type":"text","align":"left","baseline":"middle","fontSize":16,"font":"Liberation Sans","color":"black"},
 "encoding":{"x":{"field":"wl","type":"quantitative"},"y":{"field":"flux","type":"quantitative"},"text":{"field":"t"}}},
{"data":{"name":"ytitle"},"mark":{"type":"text","align":"left","baseline":"middle","fontSize":18,"angle":270,"font":"Liberation Sans","color":"black"},
 "encoding":{"x":{"field":"wl","type":"quantitative"},"y":{"field":"flux","type":"quantitative"},"text":{"field":"t"}}},
{"data":{"name":"ysub"},"mark":{"type":"text","align":"left","baseline":"middle","fontSize":12,"angle":270,"font":"Liberation Sans","color":"black"},
 "encoding":{"x":{"field":"wl","type":"quantitative"},"y":{"field":"flux","type":"quantitative"},"text":{"field":"t"}}}
]
}
